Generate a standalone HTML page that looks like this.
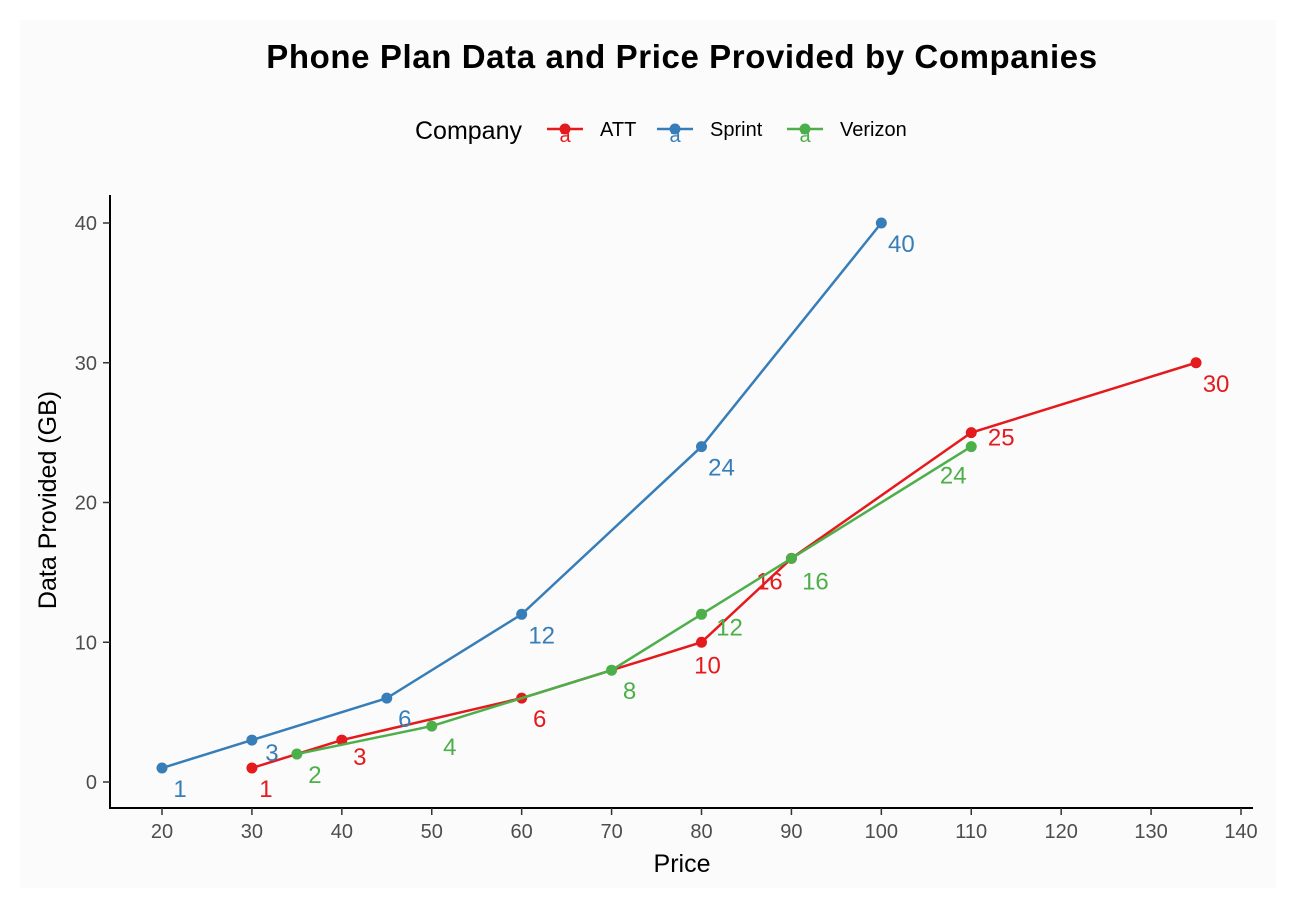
<!DOCTYPE html>
<html><head><meta charset="utf-8"><style>
body{margin:0;background:#fff;}
svg{display:block;font-family:"Liberation Sans",sans-serif;}
</style></head><body>
<svg id="chart" width="1296" height="902">
<rect x="0" y="0" width="1296" height="902" fill="#ffffff"/>
<rect x="20" y="20" width="1256" height="868" fill="#fbfbfb"/>
<text x="682" y="68" text-anchor="middle" font-size="33" letter-spacing="0.6" font-weight="bold">Phone Plan Data and Price Provided by Companies</text>
<g>
<text x="415" y="139" font-size="25">Company</text>
</g>
<line x1="110" y1="195" x2="110" y2="809" stroke="#000" stroke-width="2"/>
<line x1="109" y1="808" x2="1253" y2="808" stroke="#000" stroke-width="2"/>
<g id="xt"></g>
<g id="yt"></g>
<text x="682" y="872" text-anchor="middle" font-size="25">Price</text>
<text transform="translate(56,500) rotate(-90)" text-anchor="middle" font-size="25">Data Provided (GB)</text>
<g id="series"></g>
</svg>
<script>
const xTicks=[20,30,40,50,60,70,80,90,100,110,120,130,140];
const yTicks=[0,10,20,30,40];
const companies=["ATT","Sprint","Verizon"];
const colors=["#e41a1c","#377eb8","#4daf4a"];
const attPrice=[30,40,60,80,90,110,135];
const attData=[1,3,6,10,16,25,30];
const sprintPrice=[20,30,45,60,80,100];
const sprintData=[1,3,6,12,24,40];
const verizonPrice=[35,50,70,80,90,110];
const verizonData=[2,4,8,12,16,24];
const prices=[attPrice,sprintPrice,verizonPrice];
const datas=[attData,sprintData,verizonData];
// label nudges (layout only)
const nudges=[[[14,22],[18,18],[18,22],[6,24],[-22,24],[30,6],[20,22]],
[[18,22],[20,14],[18,22],[20,22],[20,22],[20,22]],
[[18,22],[18,22],[18,22],[28,14],[24,24],[-18,30]]];
const legendX=[565,675,805];
const NS="http://www.w3.org/2000/svg";
const X=v=>162+(v-20)*8.9917;
const Y=v=>782-v*13.975;
function mk(t,a,p){const e=document.createElementNS(NS,t);for(const k in a)e.setAttribute(k,a[k]);p.appendChild(e);return e;}
const xt=document.getElementById('xt'),yt=document.getElementById('yt'),sg=document.getElementById('series');
xTicks.forEach(v=>{
 const l=mk('line',{x1:X(v),x2:X(v),y1:808,y2:815,stroke:'#333','stroke-width':1.5},xt);
 
 
 const t=mk('text',{x:X(v),y:838,'text-anchor':'middle','font-size':20,fill:'#4d4d4d'},xt);t.textContent=v;
 
 
});
yTicks.forEach(v=>{
 const l=mk('line',{x1:103,x2:110,y1:Y(v),y2:Y(v),stroke:'#333','stroke-width':1.5},yt);
 
 
 const t=mk('text',{x:97,y:Y(v)+7,'text-anchor':'end','font-size':20,fill:'#4d4d4d'},yt);t.textContent=v;
 
 
});
const svg=document.getElementById('chart');
companies.forEach((c,i)=>{
 const g=mk('g',{},sg);
 
 
 const pts=prices[i].map((p,j)=>X(p)+','+Y(datas[i][j])).join(' ');
 const pl=mk('polyline',{points:pts,fill:'none',stroke:colors[i],'stroke-width':2.5},g);
 
 
 prices[i].forEach((p,j)=>{
  const d=datas[i][j];
  const pt=mk('circle',{cx:X(p),cy:Y(d),r:5.5,fill:colors[i]},g);
  
  
  const n=nudges[i][j]||[18,22];
  const t=mk('text',{x:X(p)+n[0],y:Y(d)+n[1]+7,'text-anchor':'middle','font-size':24,fill:colors[i]},g);
  t.textContent=d;
  
  
 });
 const lg=mk('g',{},svg);
 
 
 const cx=legendX[i];
 mk('line',{x1:cx-18,x2:cx+18,y1:129,y2:129,stroke:colors[i],'stroke-width':2.5},lg);
 mk('circle',{cx:cx,cy:129,r:5.5,fill:colors[i]},lg);
 const a=mk('text',{x:cx,y:142,'text-anchor':'middle','font-size':20,fill:colors[i]},lg);a.textContent='a';
 const lt=mk('text',{x:cx+35,y:136,'font-size':20},lg);lt.textContent=c;
});
</script>
</body></html>
